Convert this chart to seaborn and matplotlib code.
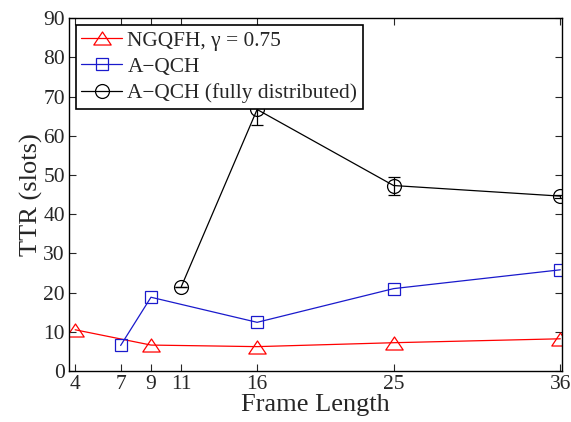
import matplotlib
matplotlib.use("Agg")
import matplotlib.pyplot as plt
from matplotlib.path import Path
import seaborn as sns
import pandas as pd

# Time-to-rendezvous versus frame length
frame_ticks = [4, 7, 9, 11, 16, 25, 36]

ngqfh_x = [4, 9, 16, 25, 36]
ngqfh_y = [10.5, 6.6, 6.2, 7.2, 8.2]

aqch_x = [7, 9, 16, 25, 36]
aqch_y = [6.5, 18.8, 12.4, 21.0, 25.8]

aqch_fd_x = [11, 16, 25, 36]
aqch_fd_y = [21.5, 66.7, 47.3, 44.6]
aqch_fd_err = [0.0, 4.0, 2.3, 0.4]

sns.set_theme(style="ticks")
plt.rcParams["font.family"] = ["Liberation Serif", "DejaVu Serif"]

# a slightly flattened open triangle
tri = Path([(-1, -0.75), (1, -0.75), (0, 0.75), (-1, -0.75)], closed=True)

fig = plt.figure(figsize=(5.71, 4.22), dpi=100)
ax = fig.add_axes([0.121, 0.121, 0.863, 0.836])

series = [
    ("NGQFH, \u03b3 = 0.75", ngqfh_x, ngqfh_y, "#ff0000", tri, 12.5),
    ("A\u2212QCH", aqch_x, aqch_y, "#1a1acc", "s", 8.7),
    ("A\u2212QCH (fully distributed)", aqch_fd_x, aqch_fd_y, "black", "o", 10),
]

for label, xs, ys, color, marker, ms in series:
    df = pd.DataFrame({"x": xs, "y": ys})
    sns.lineplot(data=df, x="x", y="y", ax=ax, color=color, linewidth=0.9,
                 marker=marker, markersize=ms, markerfacecolor="none",
                 markeredgecolor=color, markeredgewidth=0.9, label=label)

ax.errorbar(aqch_fd_x, aqch_fd_y, yerr=aqch_fd_err, fmt="none",
            ecolor="black", elinewidth=0.9, capsize=4, capthick=0.9, zorder=1)

ax.set_xlim(3.6, 36.1)
ax.set_ylim(0, 90)
ax.set_xticks(frame_ticks)
ax.set_yticks(range(0, 91, 10))
ax.tick_params(direction="in", top=True, right=True, labelsize=15.5,
               length=5, width=0.8, pad=3)
for s in ax.spines.values():
    s.set_linewidth(1.0)
    s.set_color("black")

ax.set_xlabel("Frame Length", fontsize=19, labelpad=0)
ax.set_ylabel("TTR (slots)", fontsize=19, labelpad=0)

leg = ax.legend(loc="upper left", fontsize=15.4, frameon=True, fancybox=False,
                borderpad=0.25, handlelength=1.9, handletextpad=0.25,
                labelspacing=0.3, borderaxespad=0.33, framealpha=1)
leg.get_frame().set_edgecolor("black")
leg.get_frame().set_linewidth(1.2)
leg.set_zorder(5)

fig.savefig("out.png", dpi=100)
